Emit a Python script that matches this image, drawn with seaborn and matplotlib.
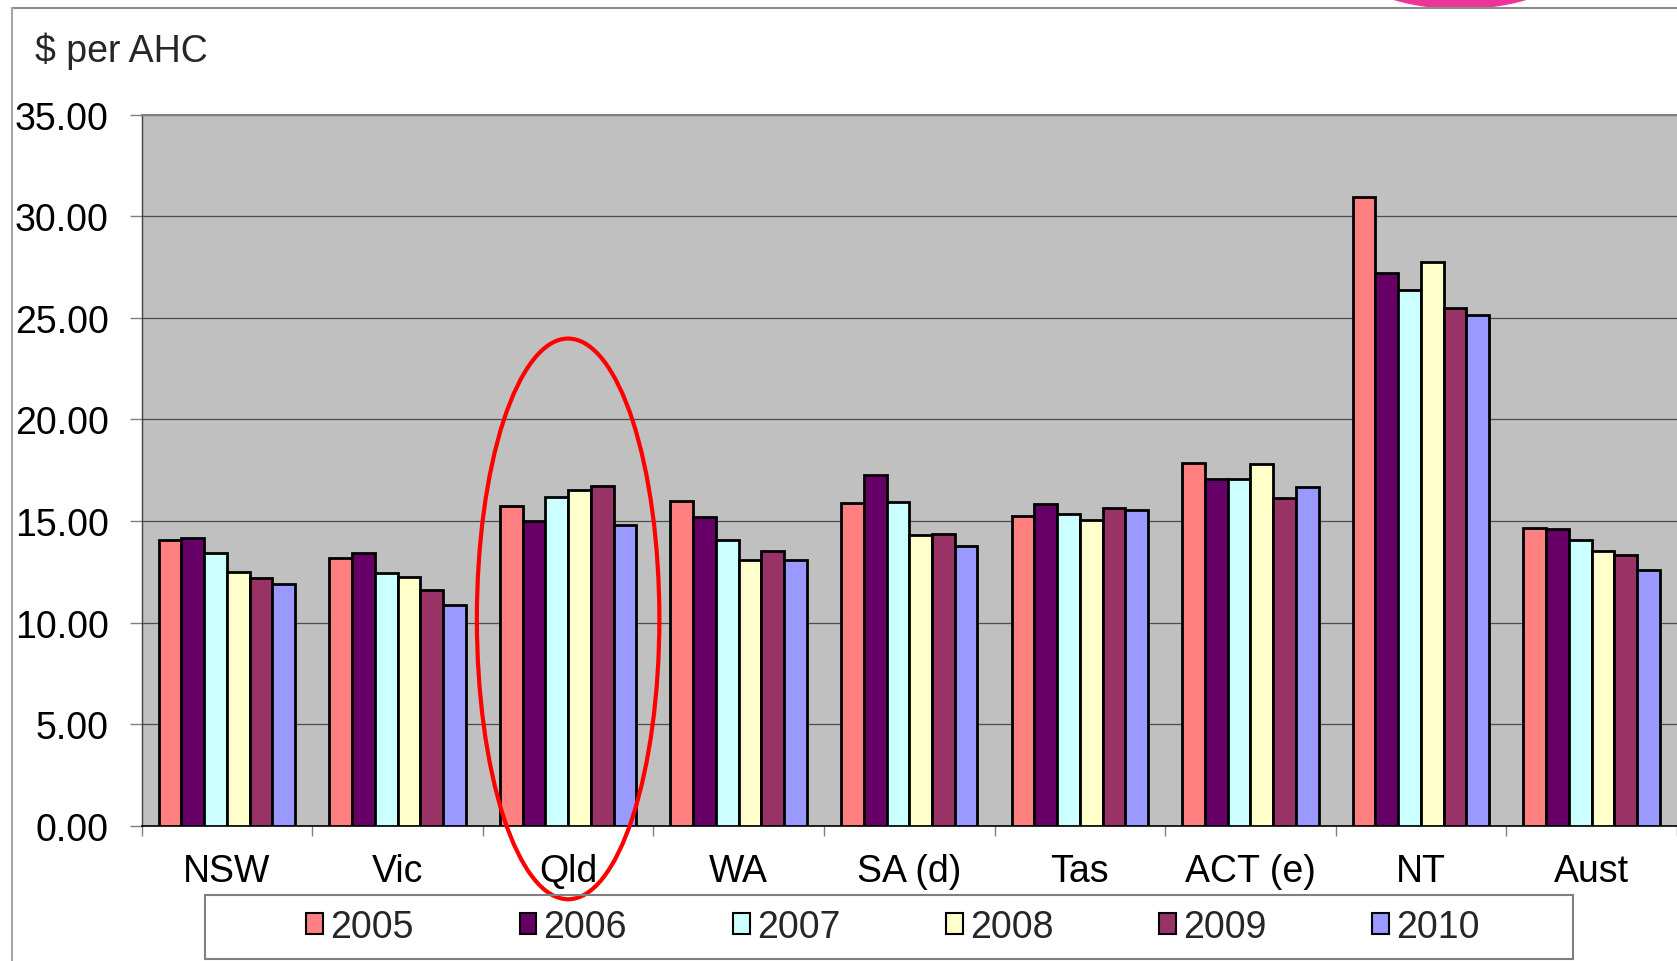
import matplotlib
matplotlib.use("Agg")
import matplotlib.pyplot as plt
from matplotlib.patches import Ellipse, Rectangle, Patch
from matplotlib.lines import Line2D
from matplotlib.ticker import FixedLocator, FormatStrFormatter
import seaborn as sns
import pandas as pd
import numpy as np

states = ["NSW", "Vic", "Qld", "WA", "SA (d)", "Tas", "ACT (e)", "NT", "Aust"]
years = ["2005", "2006", "2007", "2008", "2009", "2010"]
v2005 = [14.07, 13.17, 15.75, 15.98, 15.90, 15.24, 17.87, 30.93, 14.67]
v2006 = [14.14, 13.43, 15.00, 15.21, 17.24, 15.85, 17.05, 27.23, 14.61]
v2007 = [13.42, 12.46, 16.16, 14.04, 15.95, 15.35, 17.06, 26.36, 14.05]
v2008 = [12.51, 12.25, 16.52, 13.07, 14.30, 15.06, 17.80, 27.75, 13.51]
v2009 = [12.20, 11.61, 16.73, 13.50, 14.35, 15.62, 16.14, 25.50, 13.31]
v2010 = [11.92, 10.86, 14.80, 13.09, 13.76, 15.55, 16.67, 25.14, 12.60]
colors = ["#FF8080", "#660066", "#CCFFFF", "#FFFFCC", "#993366", "#9999FF"]
y_label = "$ per AHC"
highlight = "Qld"

series = [v2005, v2006, v2007, v2008, v2009, v2010]
rows = []
for yr, vals in zip(years, series):
    for st, v in zip(states, vals):
        rows.append({"state": st, "year": yr, "value": v})
df = pd.DataFrame(rows)

sns.set_theme(style="white")
plt.rcParams["font.family"] = ["Liberation Sans", "DejaVu Sans"]

FS = 27
W, H = 1677, 962
fig = plt.figure(figsize=(W / 100, H / 100), dpi=100)
ax = fig.add_axes([141.7 / W, 1 - 826.7 / H, (1676.8 - 141.7) / W, (826.7 - 115.7) / H])
ax.set_facecolor("#C0C0C0")

sns.barplot(data=df, x="state", y="value", hue="year", order=states, hue_order=years,
            palette=colors, edgecolor="black", linewidth=2.0, width=0.8,
            saturation=1, legend=False, ax=ax, zorder=3)

ax.set_ylim(0, 35)
ax.set_xlim(-0.5, len(states) - 0.5)
ax.yaxis.set_major_locator(FixedLocator(np.arange(0, 35.1, 5)))
ax.yaxis.set_major_formatter(FormatStrFormatter("%.2f"))
ax.grid(axis="y", color="#4d4d4d", linewidth=0.9, zorder=0)
ax.grid(axis="x", visible=False)
ax.set_axisbelow(True)
ax.set_xlabel("")
ax.set_ylabel("")

ax.tick_params(axis="y", which="major", length=8.4, width=1, color="#808080",
               pad=15.5, labelsize=FS, labelcolor="black", left=True)
ax.tick_params(axis="x", which="major", length=0, pad=20, labelsize=FS, labelcolor="black")
ax.xaxis.set_minor_locator(FixedLocator(np.arange(-0.5, len(states), 1.0)))
ax.tick_params(axis="x", which="minor", length=7.5, width=1, color="#808080", bottom=True)

for side, sp in ax.spines.items():
    sp.set_visible(True)
ax.spines["left"].set_color("#404040")
ax.spines["left"].set_linewidth(1.0)
ax.spines["bottom"].set_color("black")
ax.spines["bottom"].set_linewidth(1.2)
ax.spines["top"].set_color("#808080")
ax.spines["top"].set_linewidth(1.5)
ax.spines["right"].set_visible(False)

# highlight ellipse around Qld
qi = states.index(highlight)
ell = Ellipse((qi, 10.18), width=1.07, height=27.6, fill=False, edgecolor="#FF0000",
              linewidth=3, clip_on=False, zorder=10)
ax.add_patch(ell)

# y label
fig.text(35 / W, 1 - 62 / H, y_label, fontsize=FS, va="baseline", ha="left")

# legend frame and legend
fig.patches.append(Rectangle((205 / W, 1 - 960 / H), (1573 - 205) / W, (960 - 896) / H,
                             transform=fig.transFigure, fill=False, edgecolor="#808080",
                             linewidth=1.5))
handles = [Patch(facecolor=c, edgecolor="black", linewidth=1.5) for c in colors]
fig.legend(handles, years, loc="center", bbox_to_anchor=(893 / W, 1 - 928 / H),
           ncol=6, frameon=False, fontsize=FS, handlelength=0.45, handleheight=0.48,
           handletextpad=0.19, columnspacing=2.82, borderpad=0)

# outer frame lines
fig.add_artist(Line2D([12 / W, 1], [1 - 9 / H, 1 - 9 / H], transform=fig.transFigure,
                      color="#8c8c8c", linewidth=1.5))
fig.add_artist(Line2D([12 / W, 12 / W], [1 - 9 / H, 0], transform=fig.transFigure,
                      color="#a6a6a6", linewidth=1.5))

# pink blob at top right (partially visible)
blob = Ellipse((1460 / W, 1 - (-30) / H), width=210 / W, height=80 / H,
               transform=fig.transFigure, facecolor="#EE3399", edgecolor="none", zorder=0)
fig.patches.append(blob)

fig.savefig("out.png", dpi=100)
